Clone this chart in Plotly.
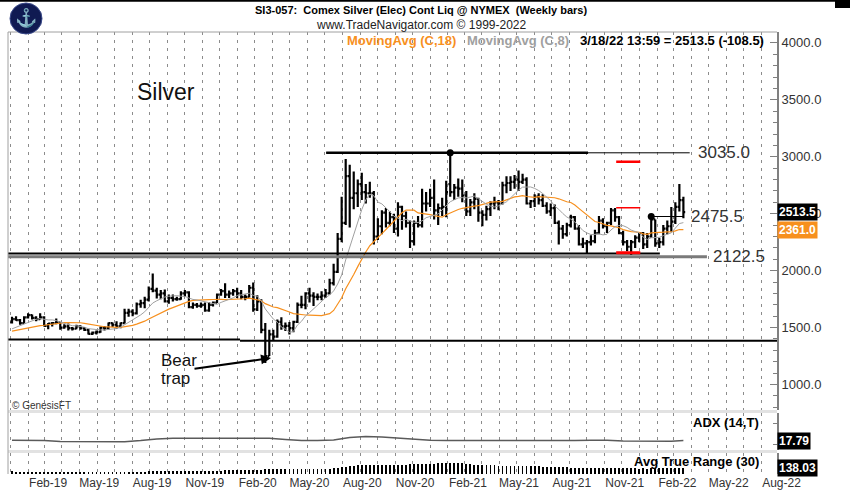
import pandas as pd
import plotly.graph_objects as go
from plotly.subplots import make_subplots

FONT = "Arial, Liberation Sans, sans-serif"
ORANGE = "#f7901e"
GRAY_MA = "#a0a0a0"

# Weekly bars (Friday), SI3-057 Comex Silver, Jan 4 2019 .. Mar 18 2022
week_start = "2019-01-04"

opens = [
    1545, 1575, 1565, 1540, 1590, 1610, 1585, 1575, 1590, 1515, 1535, 1540, 1545, 1500, 1510, 1495,
    1490, 1510, 1495, 1480, 1445, 1455, 1460, 1500, 1495, 1540, 1525, 1510, 1540, 1630, 1640, 1625,
    1705, 1715, 1745, 1840, 1825, 1790, 1800, 1730, 1760, 1750, 1750, 1800, 1810, 1680, 1700, 1690,
    1700, 1650, 1700, 1720,
    1790, 1820, 1790, 1800, 1820, 1800, 1770, 1770, 1850, 1660, 1730, 1480, 1250, 1440, 1420, 1550,
    1510, 1515, 1495, 1550, 1700, 1700, 1800, 1780, 1770, 1770, 1780, 1800, 1890, 1990, 2280, 2420,
    2830, 2640, 2680, 2760, 2690, 2680, 2680, 2300, 2390, 2510, 2420, 2470, 2370, 2560, 2480, 2420,
    2260, 2420, 2400, 2590,
    2590, 2640, 2530, 2550, 2560, 2760, 2690, 2730, 2720, 2660, 2520, 2600, 2630, 2510, 2490, 2540,
    2590, 2600, 2590, 2750, 2770, 2780, 2800, 2780, 2800, 2590, 2610, 2650, 2620, 2570, 2520, 2550,
    2420, 2370, 2320, 2400, 2470, 2370, 2230, 2240, 2250, 2260, 2330, 2440, 2390, 2420, 2530, 2470,
    2330, 2250, 2210, 2250, 2290,
    2330, 2230, 2300, 2450, 2240, 2250, 2370, 2390, 2430, 2560, 2620,
]
highs = [
    1595, 1600, 1575, 1600, 1625, 1615, 1600, 1625, 1600, 1540, 1550, 1580, 1550, 1530, 1535, 1505,
    1525, 1520, 1505, 1490, 1465, 1475, 1510, 1515, 1545, 1545, 1555, 1545, 1665, 1665, 1660, 1720,
    1745, 1770, 1860, 1975, 1850, 1830, 1835, 1790, 1790, 1770, 1820, 1830, 1820, 1720, 1715, 1720,
    1720, 1725, 1730, 1800,
    1840, 1890, 1825, 1840, 1850, 1830, 1790, 1875, 1895, 1785, 1750, 1540, 1480, 1480, 1570, 1590,
    1545, 1550, 1560, 1720, 1780, 1810, 1850, 1810, 1800, 1820, 1840, 1930, 2060, 2330, 2650, 2980,
    2930, 2870, 2800, 2860, 2760, 2780, 2700, 2460, 2530, 2550, 2520, 2500, 2600, 2570, 2520, 2440,
    2440, 2480, 2720, 2690,
    2720, 2800, 2590, 2640, 2790, 3035, 2760, 2810, 2800, 2700, 2630, 2680, 2640, 2530, 2570, 2610,
    2650, 2620, 2780, 2830, 2830, 2840, 2880, 2850, 2820, 2620, 2670, 2680, 2670, 2600, 2590, 2580,
    2440, 2400, 2420, 2490, 2480, 2400, 2290, 2270, 2310, 2360, 2480, 2460, 2430, 2550, 2550, 2480,
    2350, 2270, 2270, 2310, 2340,
    2340, 2330, 2475.5, 2450, 2290, 2400, 2440, 2560, 2600, 2760, 2650,
]
lows = [
    1535, 1560, 1525, 1535, 1580, 1570, 1555, 1570, 1510, 1485, 1510, 1530, 1480, 1490, 1475, 1475,
    1485, 1480, 1470, 1440, 1435, 1440, 1455, 1475, 1480, 1505, 1490, 1495, 1535, 1595, 1600, 1615,
    1675, 1670, 1730, 1810, 1755, 1750, 1720, 1710, 1730, 1735, 1745, 1770, 1670, 1665, 1675, 1675,
    1640, 1640, 1685, 1715,
    1780, 1760, 1760, 1780, 1760, 1750, 1740, 1765, 1640, 1645, 1450, 1190, 1250, 1390, 1410, 1480,
    1470, 1440, 1460, 1540, 1670, 1660, 1720, 1690, 1740, 1740, 1760, 1790, 1870, 1980, 2250, 2400,
    2380, 2540, 2560, 2620, 2590, 2640, 2230, 2270, 2320, 2380, 2390, 2330, 2300, 2360, 2380, 2200,
    2220, 2380, 2380, 2520,
    2560, 2450, 2400, 2480, 2470, 2650, 2620, 2650, 2600, 2480, 2480, 2540, 2430, 2390, 2440, 2480,
    2540, 2530, 2580, 2680, 2700, 2720, 2700, 2760, 2580, 2550, 2560, 2580, 2560, 2500, 2480, 2410,
    2230, 2280, 2300, 2380, 2360, 2220, 2200, 2150, 2220, 2240, 2320, 2370, 2330, 2400, 2430, 2320,
    2220, 2170, 2140, 2200, 2250,
    2190, 2200, 2290, 2210, 2200, 2220, 2320, 2340, 2410, 2520, 2460,
]
closes = [
    1575, 1565, 1540, 1590, 1610, 1585, 1575, 1590, 1515, 1535, 1540, 1545, 1500, 1510, 1495, 1490,
    1510, 1495, 1480, 1445, 1455, 1460, 1500, 1495, 1540, 1525, 1510, 1540, 1630, 1640, 1625, 1705,
    1715, 1745, 1840, 1825, 1790, 1800, 1730, 1760, 1750, 1750, 1800, 1810, 1680, 1700, 1690, 1700,
    1650, 1700, 1720, 1790,
    1820, 1790, 1800, 1820, 1800, 1770, 1770, 1850, 1660, 1730, 1480, 1250, 1440, 1420, 1550, 1510,
    1515, 1495, 1550, 1700, 1700, 1800, 1780, 1770, 1770, 1780, 1800, 1890, 1990, 2280, 2420, 2830,
    2640, 2680, 2760, 2690, 2680, 2680, 2300, 2390, 2510, 2420, 2470, 2370, 2560, 2480, 2420, 2260,
    2420, 2400, 2590, 2590,
    2640, 2530, 2550, 2560, 2690, 2690, 2730, 2720, 2660, 2520, 2600, 2630, 2510, 2490, 2540, 2590,
    2600, 2590, 2750, 2770, 2780, 2800, 2780, 2800, 2590, 2610, 2650, 2620, 2570, 2520, 2550, 2420,
    2370, 2320, 2400, 2470, 2370, 2230, 2240, 2250, 2260, 2330, 2440, 2390, 2420, 2530, 2470, 2330,
    2250, 2210, 2250, 2290, 2330,
    2230, 2300, 2450, 2240, 2250, 2370, 2390, 2430, 2560, 2620, 2513.5,
]
# 17 weekly closes before the first bar, so the averages start on bar one
warmup_closes = [1430, 1430, 1440, 1470, 1460, 1470, 1460, 1470, 1450, 1440,
                 1450, 1440, 1450, 1480, 1480, 1490, 1545]

# ADX (14,T), every 4th week plus the last bar
adx_weeks = list(range(0, 168, 4)) + [167]
adx_values = [
    18.5, 18.5, 18.0, 16.0, 15.6, 15.6, 15.6, 15.8, 18.0, 21.0, 22.0, 22.0, 21.5, 22.0, 22.6,
    22.6, 22.0, 20.0, 18.0, 18.0, 19.0, 23.5, 25.7, 24.5, 22.5, 20.5, 18.5, 18.0, 18.0, 17.0,
    16.7, 16.7, 16.7, 17.5, 18.0, 18.0, 18.5, 18.5, 17.0, 16.7, 16.7, 16.7, 17.79,
]

price_ticks = [1000, 1500, 2000, 2500, 3000, 3500, 4000]
month_ticks = ["2019-02-01", "2019-05-01", "2019-08-01", "2019-11-01", "2020-02-01",
               "2020-05-01", "2020-08-01", "2020-11-01", "2021-02-01", "2021-05-01",
               "2021-08-01", "2021-11-01", "2022-02-01", "2022-05-01", "2022-08-01"]
month_labels = ["Feb-19", "May-19", "Aug-19", "Nov-19", "Feb-20", "May-20", "Aug-20",
                "Nov-20", "Feb-21", "May-21", "Aug-21", "Nov-21", "Feb-22", "May-22", "Aug-22"]

# drawn levels
resistance = 3035.0
pivot = 2475.5
support = 2122.5
support_top = 2150.0
trap_levels = [1395.0, 1385.0]
red_levels = [2956.0, 2553.0, 2158.0]

dates = pd.date_range(week_start, periods=len(closes), freq="W-FRI")
all_closes = pd.Series(warmup_closes + closes)
ma18 = all_closes.rolling(18).mean().iloc[len(warmup_closes):].values
ma8 = all_closes.rolling(8).mean().iloc[len(warmup_closes):].values

prev_close = pd.Series([warmup_closes[-1]] + closes[:-1])
hi, lo = pd.Series(highs), pd.Series(lows)
true_range = pd.concat([hi - lo, (hi - prev_close).abs(), (lo - prev_close).abs()], axis=1).max(axis=1)
atr = true_range.rolling(30, min_periods=1).mean().values

X0, X1 = "2018-12-28", "2022-08-28"


def px(x, y):
    """pixel position in the 850x492 picture -> paper coords"""
    return (x - 8) / 769, (474 - y) / 442


fig = make_subplots(rows=3, cols=1, shared_xaxes=True, vertical_spacing=0)

fig.add_trace(go.Scatter(x=dates, y=ma18, mode="lines", line=dict(color=ORANGE, width=1.2),
                         hoverinfo="skip"), row=1, col=1)
fig.add_trace(go.Scatter(x=dates, y=ma8, mode="lines", line=dict(color=GRAY_MA, width=1),
                         hoverinfo="skip"), row=1, col=1)
fig.add_trace(go.Ohlc(
    x=dates, open=opens, high=highs, low=lows, close=closes,
    increasing=dict(line=dict(color="black", width=2.2)),
    decreasing=dict(line=dict(color="black", width=2.2)),
    tickwidth=0.45, hoverinfo="skip",
), row=1, col=1)


def hline(x0, x1, y, color, width):
    fig.add_trace(go.Scatter(x=[x0, x1], y=[y, y], mode="lines",
                             line=dict(color=color, width=width), hoverinfo="skip"),
                  row=1, col=1)


hline("2020-07-04", "2022-03-29", resistance, "black", 1)
hline("2020-07-04", "2021-10-03", resistance, "black", 2.5)
hline(X0, "2022-04-28", support, "#7a7a7a", 3)
hline(X0, "2022-02-05", support_top, "black", 2)
hline("2022-01-21", "2022-03-18", pivot, "black", 1.2)
hline(X0, "2020-02-05", trap_levels[0], "black", 2)
hline("2020-02-05", X1, trap_levels[1], "black", 2)
hline("2021-11-21", "2022-01-02", red_levels[0], "#ff0000", 2.5)
hline("2021-11-21", "2022-01-02", red_levels[1], "#ff0000", 1.5)
hline("2021-11-21", "2022-01-02", red_levels[2], "#ff0000", 3)

fig.add_trace(go.Scatter(x=[dates[109], dates[159]], y=[resistance, pivot], mode="markers",
                         marker=dict(color="black", size=7), hoverinfo="skip"), row=1, col=1)

# ADX panel
fig.add_trace(go.Scatter(x=dates[adx_weeks], y=adx_values, mode="lines",
                         line=dict(color="#5a5a5a", width=1.5), hoverinfo="skip"), row=2, col=1)
# ATR panel, tallest bar about 12px of the 22px strip
fig.add_trace(go.Bar(x=dates, y=atr, marker_color="black", marker_line_width=0,
                     width=1.4 * 86400000, hoverinfo="skip"), row=3, col=1)

grid = dict(showgrid=True, gridcolor="#8c8c8c", griddash="3px,5px", gridwidth=1)
fig.update_xaxes(
    range=[X0, X1], tickvals=month_ticks, ticktext=month_labels, ticks="",
    showline=False, zeroline=False, rangeslider_visible=False, automargin=False,
    minor=dict(dtick="M1", tick0="2019-01-01", ticks="", **grid),
    tickfont=dict(family=FONT, size=12, color="#333"), ticklabelshift=20,
    **grid,
)
fig.update_xaxes(showticklabels=False, row=1, col=1)
fig.update_xaxes(showticklabels=False, row=2, col=1)

axis_common = dict(side="right", showline=True, linecolor="#808080", linewidth=2,
                   showgrid=False, zeroline=False, fixedrange=True, automargin=False)
fig.update_layout(
    yaxis=dict(domain=[0.1437, 1], range=[772, 4096], tickvals=price_ticks,
               ticktext=[f"{v:.1f}" for v in price_ticks], ticks="inside", ticklen=7,
               tickcolor="#808080", minor=dict(dtick=100, ticks="inside", ticklen=4,
                                               tickcolor="#808080"),
               tickfont=dict(family=FONT, size=13, color="#333"), **axis_common),
    yaxis2=dict(domain=[0.0543, 0.138], range=[0, 70], tickvals=[10, 50], ticks="inside",
                ticklen=4, tickcolor="#808080", showticklabels=False, **axis_common),
    yaxis3=dict(domain=[0, 0.0475], range=[0, atr.max() * 22 / 12], showticklabels=False,
                ticks="", **axis_common),
)

shapes = []
for y in (411.5, 451.5):
    _, yp = px(0, y)
    shapes.append(dict(type="line", xref="paper", yref="paper", x0=0, x1=1, y0=yp, y1=yp,
                       line=dict(color="#e2e2e2", width=3), layer="below"))
shapes += [
    dict(type="line", xref="paper", yref="paper", x0=0, x1=1, y0=1, y1=1,
         line=dict(color="#a0a0a0", width=1)),
    dict(type="line", xref="paper", yref="paper", x0=0, x1=0, y0=0, y1=1,
         line=dict(color="#a0a0a0", width=1)),
    dict(type="line", xref="paper", yref="paper", x0=px(0, 0)[0], x1=px(835, 0)[0],
         y0=px(0, 0.8)[1], y1=px(0, 0.8)[1], line=dict(color="black", width=2)),
    dict(type="rect", xref="paper", yref="paper", x0=px(835, 0)[0], x1=px(850, 0)[0],
         y0=px(0, 8)[1], y1=px(0, 0)[1], fillcolor="black", line_width=0),
    # logo
    dict(type="circle", xref="paper", yref="paper", x0=px(10, 0)[0], x1=px(42, 0)[0],
         y0=px(0, 34)[1], y1=px(0, 3)[1], fillcolor="#101a52",
         line=dict(color="#3a4a8a", width=1)),
]


def note(text, x, y, size, color="#000", bold=False, xanchor="left", bg=None):
    xp, yp = px(x, y)
    fig.add_annotation(
        text=f"<b>{text}</b>" if bold else text, x=xp, y=yp,
        xref="paper", yref="paper", xanchor=xanchor, yanchor="middle", showarrow=False,
        bgcolor=bg, borderpad=1, font=dict(family=FONT, size=size, color=color))


def level_label(value, x):
    fig.add_annotation(text=f"{value:.1f}", x=px(x, 0)[0], y=value, xref="paper", yref="y",
                       xanchor="left", yanchor="middle", showarrow=False,
                       font=dict(family=FONT, size=17, color="#333"))


note("⚓", 26, 18, 18, color="#d9b44a", xanchor="center")
note("SI3-057:  Comex Silver (Elec) Cont Liq @ NYMEX  (Weekly bars)", 421, 10, 11,
     bold=True, xanchor="center")
note("www.TradeNavigator.com © 1999-2022", 421, 25, 12, color="#222", xanchor="center")
note("MovingAvg (C,18)", 345, 40, 13, color=ORANGE, bold=True)
note("MovingAvg (C,8)", 465, 40, 13, color=GRAY_MA, bold=True)
note("3/18/22 13:59 = 2513.5 (-108.5)", 578, 40, 13, bold=True)
note("Silver", 166, 92, 23, color="#111", xanchor="center")
note("Bear", 159, 360, 17, color="#111")
note("trap", 159, 378, 17, color="#111")
note("© GenesisFT", 10, 405, 10, color="#333")
note("ADX (14,T)", 761, 422, 13, bold=True, xanchor="right")
note("Avg True Range (30)", 761, 461, 13, bold=True, xanchor="right")

level_label(resistance, 696)
level_label(pivot, 689)
level_label(support, 711)

# value boxes on the right axis
for text, y, yref, bg in [("2513.5", closes[-1], "y", "black"), ("2361.0", 2361.0, "y", ORANGE),
                          ("17.79", adx_values[-1], "y2", "black")]:
    fig.add_annotation(text=f"<b>{text}</b>", x=1.0, y=y, xref="paper", yref=yref,
                       xanchor="left", yanchor="middle", showarrow=False, bgcolor=bg,
                       borderpad=1, font=dict(family=FONT, size=12, color="white"))
note("138.03", 777, 468, 12, color="white", bold=True, bg="black")

# bear trap arrow
tip = px(271, 358)
fig.add_annotation(text="", x=tip[0], y=tip[1], xref="paper", yref="paper", ax=-78, ay=11,
                   showarrow=True, arrowhead=2, arrowsize=1, arrowwidth=2, arrowcolor="black")

fig.update_layout(
    width=850, height=492, margin=dict(l=8, r=73, t=32, b=18, autoexpand=False),
    paper_bgcolor="white", plot_bgcolor="white", showlegend=False, hovermode=False,
    shapes=shapes, bargap=0,
)

# the page's default body margin would shift the chart by 8px
fig.write_html("out.html", config={"displayModeBar": False},
               post_script="document.body.style.margin = '0';")
